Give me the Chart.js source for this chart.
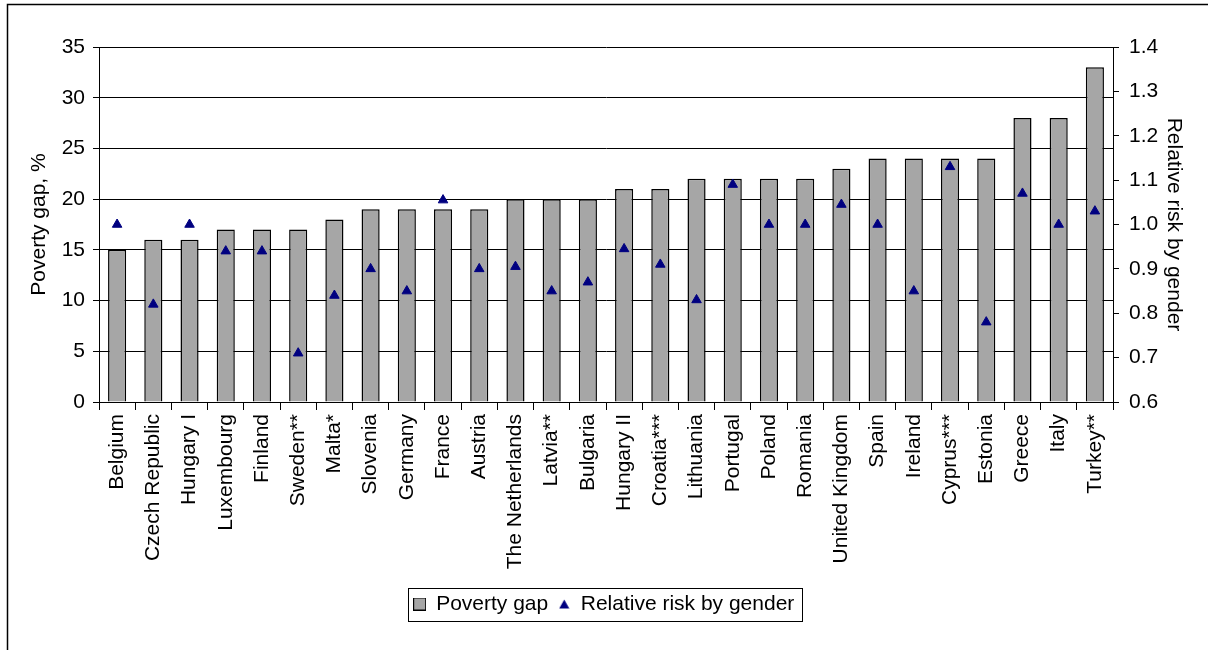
<!DOCTYPE html>
<html>
<head>
<meta charset="utf-8">
<title>Poverty gap and relative risk by gender</title>
<script src="https://cdn.jsdelivr.net/npm/chart.js@4/dist/chart.umd.min.js"></script>
<style>
  html, body { margin: 0; padding: 0; background: #fff; }
  #wrap { width: 1208px; height: 650px; position: relative; }
</style>
</head>
<body>
<div id="wrap"><canvas id="chart" width="1208" height="650"></canvas></div>
<script>
// Countries, ordered by poverty gap
const countries = [
  'Belgium', 'Czech Republic', 'Hungary I', 'Luxembourg', 'Finland', 'Sweden**',
  'Malta*', 'Slovenia', 'Germany', 'France', 'Austria', 'The Netherlands',
  'Latvia**', 'Bulgaria', 'Hungary II', 'Croatia***', 'Lithuania', 'Portugal',
  'Poland', 'Romania', 'United Kingdom', 'Spain', 'Ireland', 'Cyprus***',
  'Estonia', 'Greece', 'Italy', 'Turkey**'
];

// Poverty gap, % (left axis)
const povertyGap = [
  15, 16, 16, 17, 17, 17,
  18, 19, 19, 19, 19, 20,
  20, 20, 21, 21, 22, 22,
  22, 22, 23, 24, 24, 24,
  24, 28, 28, 33
];

// Relative risk by gender (right axis)
const relativeRisk = [
  1.00, 0.82, 1.00, 0.94, 0.94, 0.71,
  0.84, 0.90, 0.85, 1.055, 0.90, 0.905,
  0.85, 0.87, 0.945, 0.91, 0.83, 1.09,
  1.00, 1.00, 1.045, 1.00, 0.85, 1.13,
  0.78, 1.07, 1.00, 1.03
];

const seriesNames = ['Poverty gap', 'Relative risk by gender'];

const BAR_FILL = '#a6a6a6';
const MARKER = '#000080';
const FONT = { family: '"Liberation Sans", Arial, sans-serif', size: 21 };

// Small legend symbols: grey box and navy triangle
function makeBoxIcon() {
  const c = document.createElement('canvas');
  c.width = 13; c.height = 13;
  const g = c.getContext('2d');
  g.fillStyle = BAR_FILL;
  g.fillRect(0, 0, 13, 13);
  g.strokeStyle = '#000';
  g.lineWidth = 1;
  g.strokeRect(0.5, 0.5, 12, 12);
  return c;
}
function makeTriangleIcon() {
  const c = document.createElement('canvas');
  c.width = 11; c.height = 10;
  const g = c.getContext('2d');
  g.fillStyle = MARKER;
  g.beginPath();
  g.moveTo(5.5, 0.5);
  g.lineTo(10.5, 9.5);
  g.lineTo(0.5, 9.5);
  g.closePath();
  g.fill();
  return c;
}
const legendIcons = [makeBoxIcon(), makeTriangleIcon()];

// Frame lines (top and left edge) and the box around the legend
const framePlugin = {
  id: 'frame',
  afterDraw(chart) {
    const ctx = chart.ctx;
    ctx.save();
    ctx.strokeStyle = '#000';
    ctx.lineWidth = 1.5;
    ctx.beginPath();
    ctx.moveTo(7.5, 650);
    ctx.lineTo(7.5, 4.5);
    ctx.lineTo(1208, 4.5);
    ctx.stroke();

    const boxes = chart.legend && chart.legend.legendHitBoxes;
    if (boxes && boxes.length) {
      let l = Infinity, t = Infinity, r = -Infinity, b = -Infinity;
      boxes.forEach(h => {
        l = Math.min(l, h.left); t = Math.min(t, h.top);
        r = Math.max(r, h.left + h.width); b = Math.max(b, h.top + h.height);
      });
      ctx.lineWidth = 1;
      ctx.strokeRect(Math.round(l - 6) + 0.5, Math.round(t - 6) + 0.5,
                     Math.round(r - l + 13), Math.round(b - t + 12));
    }
    ctx.restore();
  }
};

new Chart(document.getElementById('chart'), {
  data: {
    labels: countries,
    datasets: [
      {
        type: 'bar',
        label: seriesNames[0],
        data: povertyGap,
        yAxisID: 'y',
        backgroundColor: BAR_FILL,
        borderColor: '#000',
        borderWidth: 1.5,
        barPercentage: 0.5,
        categoryPercentage: 1.0,
        order: 2
      },
      {
        type: 'line',
        label: seriesNames[1],
        data: relativeRisk,
        yAxisID: 'y1',
        showLine: false,
        pointStyle: 'triangle',
        pointRadius: 5.5,
        pointHoverRadius: 5.5,
        pointBackgroundColor: MARKER,
        pointBorderColor: MARKER,
        pointBorderWidth: 1,
        backgroundColor: MARKER,
        borderColor: MARKER,
        order: 1
      }
    ]
  },
  options: {
    responsive: false,
    animation: false,
    events: [],
    layout: { padding: { top: 47, left: 0, right: 0, bottom: 25.5 } },
    plugins: {
      tooltip: { enabled: false },
      legend: {
        position: 'bottom',
        labels: {
          usePointStyle: true,
          boxWidth: 12,
          boxHeight: 12,
          padding: 10,
          color: '#000',
          font: FONT,
          generateLabels: chart => chart.data.datasets.map((ds, i) => ({
            text: ds.label,
            pointStyle: legendIcons[i],
            datasetIndex: i,
            hidden: false,
            lineWidth: 0,
            fillStyle: 'transparent',
            strokeStyle: 'transparent',
            fontColor: '#000'
          }))
        }
      }
    },
    scales: {
      x: {
        grid: {
          offset: true,
          drawOnChartArea: false,
          drawTicks: true,
          tickLength: 8,
          color: '#000',
          lineWidth: 1
        },
        border: { display: true, color: '#000', width: 1 },
        ticks: {
          autoSkip: false,
          maxRotation: 90,
          minRotation: 90,
          padding: 4,
          color: '#000',
          font: FONT
        },
        afterFit(scale) { scale.height = 181.5; }
      },
      y: {
        position: 'left',
        min: 0,
        max: 35,
        ticks: { stepSize: 5, padding: 8, color: '#000', font: FONT },
        grid: { color: '#000', lineWidth: 1, tickLength: 6, drawTicks: true },
        border: { display: true, color: '#000', width: 1 },
        title: {
          display: true,
          text: 'Poverty gap, %',
          color: '#000',
          font: FONT,
          padding: { top: 27, bottom: 4 }
        },
        afterFit(scale) { scale.width = 99; }
      },
      y1: {
        position: 'right',
        min: 0.6,
        max: 1.4,
        ticks: {
          stepSize: 0.1,
          padding: 10,
          color: '#000',
          font: FONT,
          callback: v => Number(v).toFixed(1)
        },
        grid: { drawOnChartArea: false, color: '#000', lineWidth: 1, tickLength: 6, drawTicks: true },
        border: { display: true, color: '#000', width: 1 },
        title: {
          display: true,
          text: 'Relative risk by gender',
          color: '#000',
          font: FONT,
          padding: { top: 22, bottom: 4 }
        },
        afterFit(scale) { scale.width = 95; }
      }
    }
  },
  plugins: [framePlugin]
});
</script>
</body>
</html>
